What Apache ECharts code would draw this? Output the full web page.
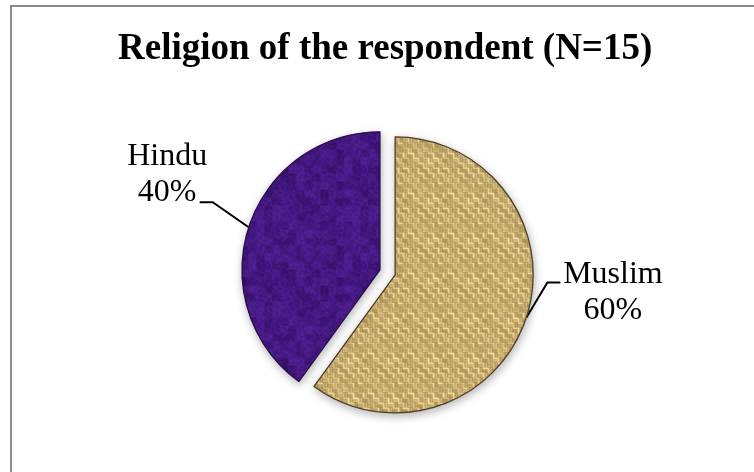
<!DOCTYPE html>
<html>
<head>
<meta charset="utf-8">
<title>Religion of the respondent</title>
<script src="https://cdn.jsdelivr.net/npm/echarts@6/dist/echarts.min.js"></script>
<style>
  html, body { margin: 0; padding: 0; background: #ffffff; }
  #chart { width: 754px; height: 472px; }
</style>
</head>
<body>
<div id="chart"></div>
<script>
// Chart content
const titleText = 'Religion of the respondent (N=15)';
const categories = ['Muslim', 'Hindu'];
const shares = [60, 40];

// Deterministic value noise used for the fabric fills
function hash(x, y, s) {
  const h = Math.sin(x * 127.1 + y * 311.7 + s * 74.7) * 43758.5453;
  return h - Math.floor(h);
}

// Woven burlap tile
function burlapTile() {
  const n = 40, cell = 5;
  const c = document.createElement('canvas');
  c.width = c.height = n;
  const g = c.getContext('2d');
  g.fillStyle = '#6e5228';
  g.fillRect(0, 0, n, n);
  for (let i = 0; i < n / cell; i++) {
    for (let j = 0; j < n / cell; j++) {
      const x = i * cell, y = j * cell;
      const horiz = (i + j) % 2 === 0;
      for (let k = 0; k < 2; k++) {
        const t = hash(i, j, k);
        const r = 200 + t * 48, gg = 176 + t * 46, b = 108 + t * 48;
        g.fillStyle = 'rgb(' + (r | 0) + ',' + (gg | 0) + ',' + (b | 0) + ')';
        if (horiz) g.fillRect(x, y + k * 2.5, cell, 2);
        else g.fillRect(x + k * 2.5, y, 2, cell);
      }
    }
  }
  return c;
}

// Mottled purple felt tile
function feltTile() {
  const n = 96;
  const c = document.createElement('canvas');
  c.width = c.height = n;
  const g = c.getContext('2d');
  for (let x = 0; x < n; x += 2) {
    for (let y = 0; y < n; y += 2) {
      const t = 0.55 * hash(x >> 3, y >> 3, 1) + 0.45 * hash(x, y, 2);
      const r = 52 + t * 34, gg = 14 + t * 22, b = 104 + t * 52;
      g.fillStyle = 'rgb(' + (r | 0) + ',' + (gg | 0) + ',' + (b | 0) + ')';
      g.fillRect(x, y, 2, 2);
    }
  }
  return c;
}

const fills = [
  { image: burlapTile(), repeat: 'repeat' },
  { image: feltTile(), repeat: 'repeat' }
];
const borders = ['#4f3f27', '#2a0d48'];
// Horizontal shift of the centred label text (left/right padding)
const labelPads = [[0, 0, 0, 124], [0, 114, 0, 0]];
// Height of a blank trailing line that lifts the label text above the leader line end
const labelLift = [56, 100];

const pieData = categories.map(function (name, i) {
  return {
    name: name,
    value: shares[i],
    selected: true,
    itemStyle: { color: fills[i], borderColor: borders[i] },
    label: {
      padding: labelPads[i],
      rich: { gap: { lineHeight: labelLift[i], fontSize: 1 } }
    }
  };
});

const chart = echarts.init(document.getElementById('chart'), null, { renderer: 'canvas' });

chart.setOption({
  animation: false,
  backgroundColor: '#ffffff',
  graphic: [{
    type: 'rect',
    shape: { x: 11, y: 6, width: 800, height: 520 },
    style: { fill: 'none', stroke: '#8a8a8a', lineWidth: 2 },
    silent: true
  }],
  title: {
    text: titleText,
    left: 118,
    top: 31,
    padding: 0,
    textStyle: {
      fontFamily: 'Liberation Serif, Times New Roman, serif',
      fontWeight: 'bold',
      fontSize: 37,
      color: '#000000'
    }
  },
  series: [{
    type: 'pie',
    center: ['51.4%', '57.7%'],
    radius: 138,
    startAngle: 90,
    clockwise: true,
    selectedMode: 'multiple',
    selectedOffset: 8,
    avoidLabelOverlap: false,
    itemStyle: {
      borderWidth: 1.3,
      shadowBlur: 8,
      shadowColor: 'rgba(0,0,0,0.28)',
      shadowOffsetX: 1,
      shadowOffsetY: 3
    },
    label: {
      show: true,
      position: 'outside',
      formatter: '{b}\n{d}%\n{gap| }',
      fontFamily: 'Liberation Serif, Times New Roman, serif',
      fontSize: 32,
      lineHeight: 36,
      color: '#000000',
      align: 'center'
    },
    labelLine: {
      show: true,
      length: 10,
      length2: 10,
      lineStyle: { color: '#000000', width: 2 }
    },
    labelLayout: function (p) {
      const pts = p.labelLinePoints;
      if (!pts) return {};
      const e = pts[0];
      const right = pts[pts.length - 1][0] > e[0];
      if (right) {
        return {
          align: 'center', verticalAlign: 'middle',
          labelLinePoints: [e, [e[0] + 21, e[1] - 35], [e[0] + 34, e[1] - 35]]
        };
      }
      return {
        align: 'center', verticalAlign: 'middle',
        labelLinePoints: [e, [e[0] - 36, e[1] - 25], [e[0] - 49, e[1] - 25]]
      };
    },
    emphasis: { disabled: true },
    data: pieData
  }]
});
</script>
</body>
</html>
